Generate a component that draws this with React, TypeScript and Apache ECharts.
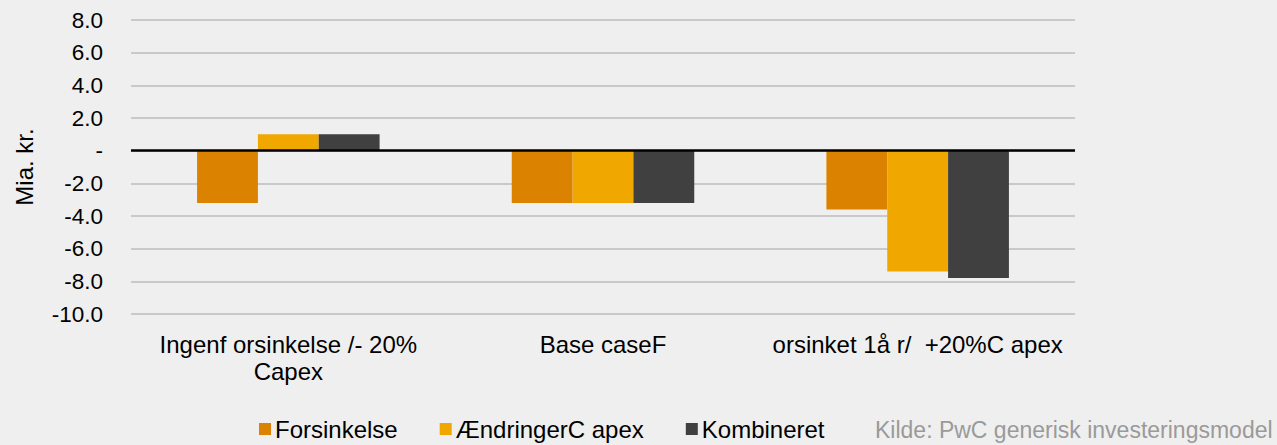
import React, { useEffect, useRef } from "react";
import * as echarts from "echarts";

const categories = ["Ingenf orsinkelse /- 20%\nCapex", "Base caseF", "orsinket 1å r/  +20%C apex"];
const seriesNames = ["Forsinkelse", "ÆndringerC apex", "Kombineret"];
const forsinkelse = [-3.2, -3.2, -3.6];
const aendringer = [1.0, -3.2, -7.4];
const kombineret = [1.0, -3.2, -7.8];
const colors = ["#DB8200", "#F0A800", "#404040"];
const yMin = -10;
const yMax = 8;
const yInterval = 2;
const yAxisName = "Mia. kr.";
const sourceText = "Kilde: PwC generisk investeringsmodel";

export default function App() {
  const ref = useRef<HTMLDivElement>(null);
  useEffect(() => {
    if (!ref.current) return;
    const chart = echarts.init(ref.current, null, { renderer: "svg" });
    const font = "Liberation Sans, Arial, sans-serif";
    const values = [forsinkelse, aendringer, kombineret];
    chart.setOption({
      animation: false,
      backgroundColor: "#EFEFEF",
      textStyle: { fontFamily: font },
      grid: { left: 131, right: 202, top: 20, bottom: 131, containLabel: false },
      legend: {
        left: 259,
        top: 417,
        padding: 0,
        itemWidth: 12,
        itemHeight: 12,
        itemGap: 42,
        icon: "rect",
        textStyle: { fontFamily: font, fontSize: 24, color: "#000", padding: [0, 0, 0, -1] },
        data: seriesNames,
      },
      xAxis: {
        type: "category",
        data: categories,
        axisLine: { show: false, onZero: false },
        axisTick: { show: false },
        axisLabel: {
          margin: 17,
          fontSize: 24,
          lineHeight: 27,
          color: "#000",
          fontFamily: font,
          interval: 0,
        },
      },
      yAxis: {
        type: "value",
        min: yMin,
        max: yMax,
        interval: yInterval,
        name: yAxisName,
        nameLocation: "middle",
        nameGap: 95,
        nameTextStyle: { fontSize: 24, color: "#000", fontFamily: font },
        axisLine: { show: false },
        axisTick: { show: false },
        axisLabel: {
          margin: 28,
          fontSize: 22.5,
          color: "#000",
          fontFamily: font,
          formatter: (v: number) => (v === 0 ? "-" : v.toFixed(1)),
        },
        splitLine: { lineStyle: { color: "#BDBDBD", width: 1.5 } },
      },
      series: seriesNames.map((name, i) => ({
        name,
        type: "bar",
        data: values[i],
        barGap: "0%",
        barCategoryGap: "42%",
        itemStyle: { color: colors[i] },
        markLine:
          i === 0
            ? {
                silent: true,
                symbol: "none",
                label: { show: false },
                lineStyle: { color: "#000", width: 2.5, type: "solid" },
                data: [{ yAxis: 0 }],
                z: 10,
              }
            : undefined,
      })),
      graphic: [
        {
          type: "text",
          left: 875,
          top: 418,
          style: { text: sourceText, fontSize: 23, fill: "#9A9A9A", fontFamily: font },
        },
      ],
    });
    return () => chart.dispose();
  }, []);
  return (
    <div
      ref={ref}
      style={{ position: "absolute", left: 0, top: 0, width: 1277, height: 445 }}
    />
  );
}
